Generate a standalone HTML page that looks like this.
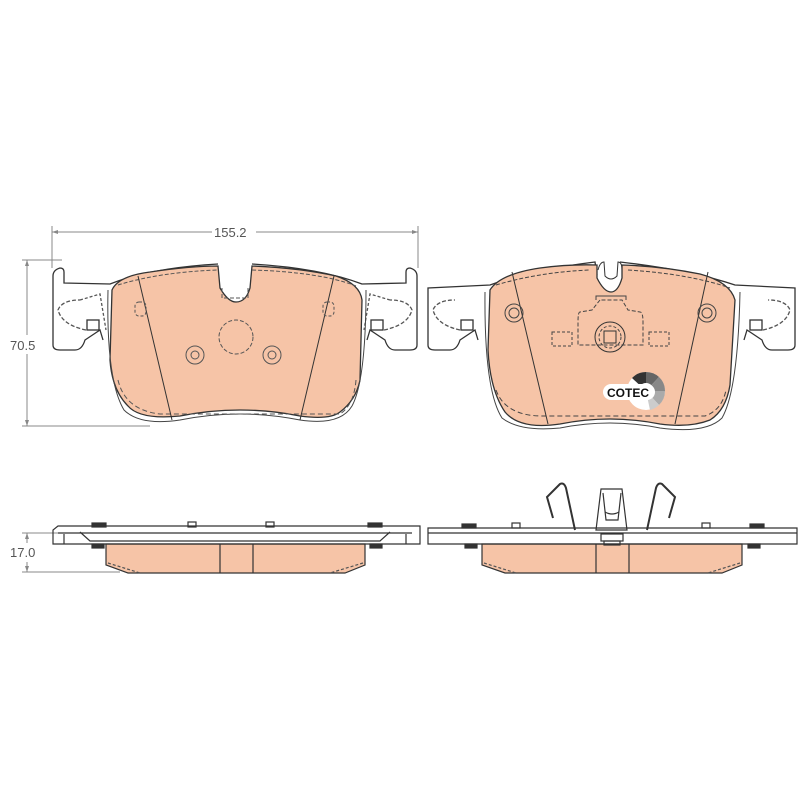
<!DOCTYPE html>
<html><head><meta charset="utf-8"><style>
html,body{margin:0;padding:0;background:#fff;}
svg{display:block}
text{font-family:"Liberation Sans",sans-serif;fill:#555;font-size:13px}
</style></head><body>
<svg width="800" height="800" viewBox="0 0 800 800" xmlns="http://www.w3.org/2000/svg">
<g stroke="#888" stroke-width="1" fill="none">
<line x1="52" y1="226" x2="52" y2="268"/><line x1="418" y1="226" x2="418" y2="268"/>
<line x1="52" y1="232" x2="212" y2="232"/><line x1="256" y1="232" x2="418" y2="232"/>
<line x1="22" y1="260" x2="62" y2="260"/><line x1="22" y1="426" x2="150" y2="426"/>
<line x1="27" y1="260" x2="27" y2="335"/><line x1="27" y1="354" x2="27" y2="426"/>
<line x1="22" y1="533" x2="60" y2="533"/><line x1="22" y1="572" x2="120" y2="572"/>
<line x1="27" y1="533" x2="27" y2="543"/><line x1="27" y1="562" x2="27" y2="572"/>
</g>
<g fill="#888"><path d="M52 232l6-2v4z"/><path d="M418 232l-6-2v4z"/><path d="M27 260l-2 6h4z"/><path d="M27 426l-2-6h4z"/><path d="M27 533l-2 6h4z"/><path d="M27 572l-2-6h4z"/></g>
<text x="214" y="237">155.2</text>
<text x="10" y="350">70.5</text>
<text x="10" y="557">17.0</text>

<!-- LEFT PAD TOP -->
<g stroke="#333" stroke-width="1.3" fill="none">
<path d="M53 345 L53 276 Q53 270 60 268 Q64 268 64 272 L64 283 L110 284 Q150 268 218 264 M252 264 Q320 268 362 284 L406 283 L406 272 Q406 268 410 268 Q417 270 417 276 L417 345 Q417 350 410 350 L395 350 Q388 350 385 340 L370 330 L367 340 M53 345 Q53 350 60 350 L75 350 Q82 350 85 340 L100 330 L103 340"/>
<path d="M86 330 Q62 325 58 310 Q62 300 80 300" stroke-dasharray="4 2" stroke="#555"/>
<path d="M384 330 Q408 325 412 310 Q408 300 390 300" stroke-dasharray="4 2" stroke="#555"/>
<path d="M80 300 L100 294 L106 330 M390 300 L370 294 L364 330" stroke="#555" stroke-dasharray="3 2"/>
<rect x="87" y="320" width="12" height="10"/><rect x="371" y="320" width="12" height="10"/>
</g>
<path d="M112 290 Q118 276 150 272 Q190 266 218 266 L220 288 Q228 302 236 302 Q246 302 250 288 L252 266 Q300 268 336 276 Q360 284 362 300 L360 380 Q356 400 340 412 Q330 420 300 416 Q240 404 180 416 Q140 420 128 406 Q112 390 110 360 Z" fill="#f6c4a7" stroke="#333" stroke-width="1.3"/>
<path d="M108 290 Q106 380 124 410 Q140 426 180 420 Q240 408 300 420 Q340 426 352 406 Q366 380 366 290" fill="none" stroke="#444" stroke-width="1"/>
<g stroke="#555" fill="none" stroke-width="1">
<path d="M118 285 Q160 272 218 270 M252 270 Q320 272 356 286" stroke-dasharray="4 2"/>
<path d="M118 380 Q125 410 160 414 L340 414 Q354 405 356 380" stroke-dasharray="5 3"/>
<path d="M222 288 L222 298 L248 298 L248 288" stroke-dasharray="4 2"/>
<circle cx="236" cy="337" r="17" stroke-dasharray="4 2"/>
<line x1="138" y1="276" x2="172" y2="420" stroke="#333"/>
<line x1="334" y1="276" x2="300" y2="420" stroke="#333"/>
<rect x="135" y="302" width="11" height="14" rx="4" stroke-dasharray="3 2"/>
<rect x="323" y="302" width="11" height="14" rx="4" stroke-dasharray="3 2"/>
<circle cx="195" cy="355" r="9"/><circle cx="195" cy="355" r="4"/>
<circle cx="272" cy="355" r="9"/><circle cx="272" cy="355" r="4"/>
</g>

<!-- RIGHT PAD TOP -->
<g stroke="#333" stroke-width="1.3" fill="none">
<path d="M428 345 L428 288 L490 285 Q530 270 595 262 L597 275 M620 262 Q690 270 735 285 L795 288 L795 345 Q795 350 788 350 L772 350 Q765 350 762 340 L747 330 L744 340 M428 345 Q428 350 435 350 L450 350 Q457 350 460 340 L475 330 L478 340"/>
<path d="M460 330 Q437 325 433 310 Q437 300 455 300" stroke-dasharray="4 2" stroke="#555"/>
<path d="M763 330 Q786 325 790 310 Q786 300 768 300" stroke-dasharray="4 2" stroke="#555"/>
<rect x="461" y="320" width="12" height="10"/><rect x="750" y="320" width="12" height="10"/>
</g>
<path d="M490 290 Q500 274 540 268 Q570 264 597 265 L597 278 Q604 292 611 292 Q618 292 622 278 L622 265 Q660 266 700 274 Q730 282 735 300 L730 385 Q726 410 710 420 Q690 428 660 424 Q610 414 560 424 Q520 430 505 412 Q490 390 488 350 Z" fill="#f6c4a7" stroke="#333" stroke-width="1.3"/>
<path d="M485 292 Q484 390 502 418 Q520 432 560 428 Q610 418 660 428 Q706 434 722 418 Q738 390 740 292" fill="none" stroke="#444" stroke-width="1"/>
<g stroke="#444" fill="none" stroke-width="1">
<path d="M496 285 Q540 272 590 270 M628 270 Q690 274 730 288" stroke-dasharray="4 2"/>
<path d="M496 390 Q505 415 540 416 L705 416 Q722 410 726 390" stroke-dasharray="5 3"/>
<path d="M598 270 Q600 262 604 262 L605 276 Q611 282 617 276 L618 262 Q622 262 622 270" stroke="#333"/>
<path d="M596 300 L596 296 L626 296 L626 300" />
<path d="M600 300 L592 310 L580 312 Q578 312 578 322 L578 345 L643 345 L643 322 Q643 312 640 312 L628 310 L622 300 Z" stroke-dasharray="4 2"/>
<rect x="552" y="332" width="20" height="14" stroke-dasharray="3 2"/>
<rect x="649" y="332" width="20" height="14" stroke-dasharray="3 2"/>
<circle cx="610" cy="337" r="15" stroke="#333"/><circle cx="610" cy="337" r="11" stroke-dasharray="3 2"/>
<rect x="604" y="331" width="12" height="12" stroke="#333"/>
<line x1="512" y1="272" x2="548" y2="424" stroke="#333"/>
<line x1="708" y1="272" x2="675" y2="424" stroke="#333"/>
<circle cx="514" cy="313" r="9"/><circle cx="514" cy="313" r="5"/>
<circle cx="707" cy="313" r="9"/><circle cx="707" cy="313" r="5"/>
</g>
<!-- COTEC -->
<circle cx="646" cy="391" r="19" fill="#fff"/>
<path d="M646 391 L632 378 A19 19 0 0 1 646 372 Z" fill="#333"/>
<path d="M646 391 L646 372 A19 19 0 0 1 659 377 Z" fill="#666"/>
<path d="M646 391 L659 377 A19 19 0 0 1 665 391 Z" fill="#888"/>
<path d="M646 391 L665 391 A19 19 0 0 1 659 405 Z" fill="#aaa"/>
<path d="M646 391 L659 405 A19 19 0 0 1 650 410 Z" fill="#ccc"/>
<circle cx="646" cy="391" r="8" fill="#fff"/>
<rect x="603" y="384" width="52" height="16" rx="8" fill="#fff"/>
<text x="607" y="397" style="font-size:12px;font-weight:bold;fill:#111">COTEC</text>

<!-- LEFT SIDE VIEW -->
<path d="M106 544 L365 544 L365 565 L345 573 L128 573 L106 565 Z" fill="#f6c4a7" stroke="#333" stroke-width="1.2"/>
<g stroke="#333" stroke-width="1.2" fill="none">
<line x1="220" y1="544" x2="220" y2="573"/><line x1="253" y1="544" x2="253" y2="573"/>
<path d="M108 563 L140 573 M363 563 L330 573" stroke-dasharray="3 2" stroke="#555"/>
<path d="M53 544 L53 530 L58 526 L420 526 L420 544 Z"/>
<line x1="58" y1="533" x2="412" y2="533"/>
<line x1="64" y1="534" x2="64" y2="544"/><line x1="406" y1="534" x2="406" y2="544"/>
<path d="M80 532 L90 541 L380 541 L390 532"/>
<rect x="92" y="523" width="14" height="4" fill="#333"/><rect x="368" y="523" width="14" height="4" fill="#333"/>
<rect x="92" y="544" width="12" height="4" fill="#333"/><rect x="370" y="544" width="12" height="4" fill="#333"/>
<rect x="188" y="522" width="8" height="5"/><rect x="266" y="522" width="8" height="5"/>
</g>
<!-- RIGHT SIDE VIEW -->
<path d="M482 544 L742 544 L742 565 L722 573 L505 573 L482 565 Z" fill="#f6c4a7" stroke="#333" stroke-width="1.2"/>
<g stroke="#333" stroke-width="1.2" fill="none">
<line x1="596" y1="544" x2="596" y2="573"/><line x1="629" y1="544" x2="629" y2="573"/>
<path d="M484 563 L516 573 M740 563 L708 573" stroke-dasharray="3 2" stroke="#555"/>
<path d="M428 544 L428 528 L797 528 L797 544 Z"/>
<line x1="428" y1="533" x2="797" y2="533"/>
<rect x="462" y="524" width="14" height="4" fill="#333"/><rect x="750" y="524" width="14" height="4" fill="#333"/>
<rect x="465" y="544" width="12" height="4" fill="#333"/><rect x="748" y="544" width="12" height="4" fill="#333"/>
<rect x="512" y="523" width="8" height="5"/><rect x="702" y="523" width="8" height="5"/>
<path d="M553 518 L547 497 L560 484 Q564 482 566 488 L575 530" stroke-width="2"/>
<path d="M669 518 L675 497 L662 484 Q658 482 656 488 L647 530" stroke-width="2"/>
<path d="M596 530 L601 489 L622 489 L627 530 Z"/>
<path d="M603 493 L606 520 L618 520 L621 493"/>
<path d="M605 512 Q612 516 619 512"/>
<rect x="601" y="534" width="22" height="7"/><rect x="604" y="541" width="16" height="4"/>
</g>
</svg>
</body></html>
